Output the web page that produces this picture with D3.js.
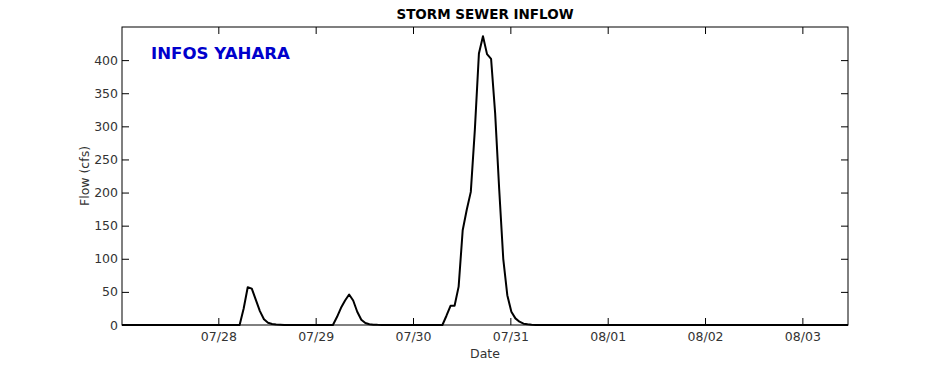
<!DOCTYPE html>
<html>
<head>
<meta charset="utf-8">
<script src="https://cdn.jsdelivr.net/npm/d3@7"></script>
<style>
  body { margin: 0; background: #fff; }
  text { font-family: "DejaVu Sans", sans-serif; }
</style>
</head>
<body>
<div id="chart"></div>
<script>
// hourly series, first reading 07/27 00:15
const startTime = "2014-07-27T00:15"
const endTime = "2014-08-03T11:15"
const tickDates = ["2014-07-28", "2014-07-29", "2014-07-30", "2014-07-31", "2014-08-01", "2014-08-02", "2014-08-03"]
const yTicks = [0, 50, 100, 150, 200, 250, 300, 350, 400]

// storm sewer inflow (cfs), one value per hour
const flow = [
    0, 0, 0, 0, 0, 0, 0, 0, 0, 0, 0, 0, 0, 0, 0, 0, 0, 0, 0, 0,
    0, 0, 0, 0, 0, 0, 0, 0, 0, 0, 25, 57, 55, 38, 21, 8.6, 3.5, 1.5, 0.6, 0.3,
    0.1, 0, 0, 0, 0, 0, 0, 0, 0, 0, 0, 0, 0, 12, 26, 37, 46, 37, 20, 8,
    3, 1.2, 0.5, 0.2, 0.1, 0, 0, 0, 0, 0, 0, 0, 0, 0, 0, 0, 0, 0, 0, 0,
    14, 29, 29, 58, 143, 174, 201, 295, 410, 436, 409, 402, 320, 205, 100, 45, 20, 10, 5, 2,
    1, 0.4, 0.1, 0, 0, 0, 0, 0, 0, 0, 0, 0, 0, 0, 0, 0, 0, 0, 0, 0,
    0, 0, 0, 0, 0, 0, 0, 0, 0, 0, 0, 0, 0, 0, 0, 0, 0, 0, 0, 0,
    0, 0, 0, 0, 0, 0, 0, 0, 0, 0, 0, 0, 0, 0, 0, 0, 0, 0, 0, 0,
    0, 0, 0, 0, 0, 0, 0, 0, 0, 0, 0, 0, 0, 0, 0, 0, 0, 0, 0, 0
]

const width = 938, height = 365
const margin = ({ top: 27, right: 90, bottom: 40, left: 122 })

const parse = d3.isoParse
const t0 = parse(startTime)
const data = flow.map((v, i) => ({ date: d3.timeHour.offset(t0, i), value: v }))

const svg = d3.select("#chart").append("svg")
    .attr("width", width)
    .attr("height", height)

const x = d3.scaleTime()
    .domain([t0, parse(endTime)])
    .range([margin.left, width - margin.right])

const y = d3.scaleLinear()
    .domain([0, 450])
    .range([height - margin.bottom, margin.top])

const tickLen = 7
const fmt = d3.timeFormat("%m/%d")

// axes with inward ticks, matplotlib style
svg.append("g")
    .attr("transform", `translate(0,${height - margin.bottom})`)
    .call(d3.axisBottom(x).tickValues(tickDates.map(parse)).tickFormat(fmt).tickSizeInner(-tickLen).tickSizeOuter(0).tickPadding(7))
svg.append("g")
    .attr("transform", `translate(0,${margin.top})`)
    .call(d3.axisTop(x).tickValues(tickDates.map(parse)).tickFormat("").tickSizeInner(-tickLen).tickSizeOuter(0))
svg.append("g")
    .attr("transform", `translate(${margin.left},0)`)
    .call(d3.axisLeft(y).tickValues(yTicks).tickFormat(d3.format("d")).tickSizeInner(-tickLen).tickSizeOuter(0).tickPadding(4))
svg.append("g")
    .attr("transform", `translate(${width - margin.right},0)`)
    .call(d3.axisRight(y).tickValues(yTicks).tickFormat("").tickSizeInner(-tickLen).tickSizeOuter(0))

svg.selectAll(".domain").remove()
svg.selectAll(".tick line").attr("stroke", "#000")
svg.selectAll(".tick text")
    .style("font-size", "12.5px")
    .attr("fill", "#333")

// the flow line
svg.append("path")
    .datum(data)
    .attr("fill", "none")
    .attr("stroke", "#000")
    .attr("stroke-width", 2)
    .attr("stroke-linejoin", "round")
    .attr("d", d3.line().x(d => x(d.date)).y(d => y(d.value)))

// frame
svg.append("rect")
    .attr("x", margin.left)
    .attr("y", margin.top)
    .attr("width", width - margin.left - margin.right)
    .attr("height", height - margin.top - margin.bottom)
    .attr("fill", "none")
    .attr("stroke", "#000")
    .attr("stroke-width", 1)

svg.append("text")
    .attr("x", (margin.left + width - margin.right) / 2)
    .attr("y", 19)
    .attr("text-anchor", "middle")
    .style("font-size", "13.5px")
    .style("font-weight", "bold")
    .text("STORM SEWER INFLOW")

svg.append("text")
    .attr("x", 151)
    .attr("y", 59)
    .attr("fill", "#0000cc")
    .style("font-size", "16.6px")
    .style("font-weight", "bold")
    .text("INFOS YAHARA")

svg.append("text")
    .attr("transform", `translate(89,${(margin.top + height - margin.bottom) / 2}) rotate(-90)`)
    .attr("text-anchor", "middle")
    .attr("fill", "#333")
    .style("font-size", "12.5px")
    .text("Flow (cfs)")

svg.append("text")
    .attr("x", (margin.left + width - margin.right) / 2)
    .attr("y", 358)
    .attr("text-anchor", "middle")
    .attr("fill", "#333")
    .style("font-size", "12.5px")
    .text("Date")
</script>
</body>
</html>
